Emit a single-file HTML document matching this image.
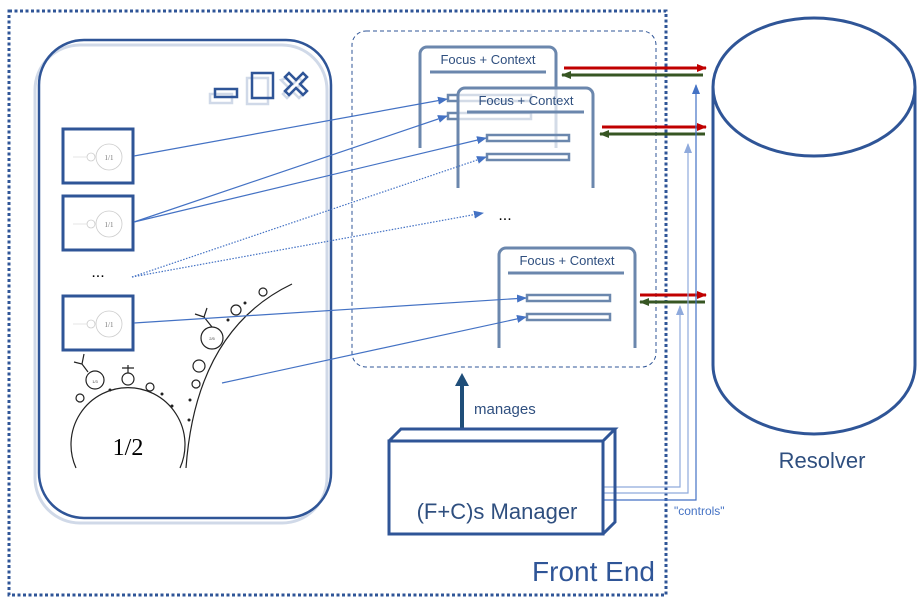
<!DOCTYPE html>
<html><head><meta charset="utf-8"><style>
html,body{margin:0;padding:0;background:#fff;}
svg{display:block;font-family:"Liberation Sans",sans-serif;}
</style></head><body>
<svg width="923" height="606" viewBox="0 0 923 606" xmlns="http://www.w3.org/2000/svg">
<defs>
<marker id="ab" markerWidth="10" markerHeight="8" refX="9" refY="4" orient="auto" markerUnits="userSpaceOnUse"><path d="M0,0 L10,4 L0,8 z" fill="#4472c4"/></marker>
<marker id="ar" markerWidth="10" markerHeight="8" refX="9" refY="4" orient="auto" markerUnits="userSpaceOnUse"><path d="M0,0 L10,4 L0,8 z" fill="#c00000"/></marker>
<marker id="ag" markerWidth="10" markerHeight="8" refX="9" refY="4" orient="auto" markerUnits="userSpaceOnUse"><path d="M0,0 L10,4 L0,8 z" fill="#375623"/></marker>
<marker id="abl" markerWidth="10" markerHeight="8" refX="9" refY="4" orient="auto" markerUnits="userSpaceOnUse"><path d="M0,0 L10,4 L0,8 z" fill="#8faadc"/></marker>
</defs>

<rect x="9" y="11" width="657" height="584" fill="none" stroke="#2f5597" stroke-width="3" stroke-dasharray="3,2.5"/>

<rect x="35" y="45" width="292" height="478" rx="45" fill="none" stroke="#d0d9e8" stroke-width="3"/>
<rect x="39" y="40" width="292" height="478" rx="45" fill="none" stroke="#2f5597" stroke-width="2.5"/>
<rect x="210" y="94" width="22" height="9" fill="none" stroke="#d0d9e8" stroke-width="2.5"/>
<rect x="247" y="78" width="21" height="26" fill="none" stroke="#d0d9e8" stroke-width="2.5"/>
<path d="M281,80 l6,-2 l6,6 l6,-6 l4,4 l-6,6 l6,6 l-4,4 l-6,-6 l-6,6 l-4,-4 l6,-6 z" fill="none" stroke="#d0d9e8" stroke-width="2.5"/>
<rect x="215" y="89" width="22" height="8" fill="none" stroke="#2f5597" stroke-width="2.5"/>
<rect x="252" y="73" width="21" height="25" fill="none" stroke="#2f5597" stroke-width="2.5"/>
<path d="M289,73 l7,7 l7,-7 l4,4 l-7,7 l7,7 l-4,4 l-7,-7 l-7,7 l-4,-4 l7,-7 l-7,-7 z" fill="none" stroke="#2f5597" stroke-width="2.5"/>

<g id="th">
<rect x="63" y="129" width="70" height="54" fill="#fff" stroke="#2f5597" stroke-width="3"/>
<circle cx="109" cy="157" r="13" fill="none" stroke="#ccc" stroke-width="0.8"/>
<circle cx="91" cy="157" r="4" fill="none" stroke="#ccc" stroke-width="0.8"/>
<line x1="73" y1="157" x2="87" y2="157" stroke="#ddd" stroke-width="0.8"/>
<text x="109" y="160" font-size="7" text-anchor="middle" fill="#777" font-family="Liberation Serif,serif">1/1</text>
</g>
<use href="#th" y="67"/>
<use href="#th" y="167"/>
<text x="98" y="277" font-size="16" text-anchor="middle" fill="#000">...</text>

<g fill="none" stroke="#222" stroke-width="1.2">
<path d="M76,468 A57,57 0 1 1 180,468"/>
<path d="M186,468 Q196,330 292,284"/>
<circle cx="95" cy="380" r="9"/><circle cx="128" cy="379" r="6"/><circle cx="150" cy="387" r="4"/><circle cx="80" cy="398" r="4"/>
<circle cx="212" cy="338" r="11"/><circle cx="199" cy="366" r="6"/><circle cx="196" cy="384" r="4"/><circle cx="236" cy="310" r="5"/><circle cx="263" cy="292" r="4"/>
<path d="M88,372 l-6,-8 l-8,-2 M82,364 l2,-10 M128,373 v-8 M122,368 h12 M212,327 l-8,-10 M204,317 l-9,-3 M204,317 l3,-9"/>
</g>
<g fill="#222"><circle cx="110" cy="390" r="1.5"/><circle cx="162" cy="394" r="1.5"/><circle cx="172" cy="406" r="1.5"/><circle cx="190" cy="400" r="1.5"/><circle cx="189" cy="420" r="1.5"/><circle cx="228" cy="320" r="1.5"/><circle cx="245" cy="303" r="1.5"/></g>
<text x="95" y="383" font-size="4" fill="#444" text-anchor="middle">1/3</text>
<text x="212" y="340" font-size="4" fill="#444" text-anchor="middle">2/5</text>
<text x="128" y="455" font-size="24" text-anchor="middle" fill="#000" font-family="Liberation Serif,serif">1/2</text>

<rect x="352" y="31" width="304" height="336" rx="14" fill="none" stroke="#2f5597" stroke-width="1" stroke-dasharray="4,3"/>

<path d="M420,148 V54 a7,7 0 0 1 7,-7 H549 a7,7 0 0 1 7,7 V148" fill="none" stroke="#6b87ad" stroke-width="3"/>
<text x="488" y="64" font-size="13" text-anchor="middle" fill="#2f4f7f">Focus + Context</text>
<line x1="430" y1="72" x2="546" y2="72" stroke="#6b87ad" stroke-width="3"/>
<rect x="448" y="95" width="83" height="6" fill="none" stroke="#6b87ad" stroke-width="2.5"/>
<rect x="448" y="113" width="83" height="6" fill="none" stroke="#6b87ad" stroke-width="2.5"/>
<path d="M458,188 V95 a7,7 0 0 1 7,-7 H586 a7,7 0 0 1 7,7 V188" fill="#fff" fill-opacity="0.7" stroke="#6b87ad" stroke-width="3"/>
<text x="526" y="105" font-size="13" text-anchor="middle" fill="#2f4f7f">Focus + Context</text>
<line x1="467" y1="112" x2="584" y2="112" stroke="#6b87ad" stroke-width="3"/>
<rect x="487" y="135" width="82" height="6" fill="none" stroke="#6b87ad" stroke-width="2.5"/>
<rect x="487" y="154" width="82" height="6" fill="none" stroke="#6b87ad" stroke-width="2.5"/>
<text x="505" y="220" font-size="16" text-anchor="middle" fill="#000">...</text>
<path d="M499,348 V255 a7,7 0 0 1 7,-7 H628 a7,7 0 0 1 7,7 V348" fill="none" stroke="#6b87ad" stroke-width="3"/>
<text x="567" y="265" font-size="13" text-anchor="middle" fill="#2f4f7f">Focus + Context</text>
<line x1="508" y1="273" x2="624" y2="273" stroke="#6b87ad" stroke-width="3"/>
<rect x="527" y="295" width="83" height="6" fill="none" stroke="#6b87ad" stroke-width="2.5"/>
<rect x="527" y="314" width="83" height="6" fill="none" stroke="#6b87ad" stroke-width="2.5"/>

<g stroke="#4472c4" stroke-width="1.2" fill="none">
<line x1="134" y1="156" x2="447" y2="99" marker-end="url(#ab)"/>
<line x1="134" y1="222" x2="447" y2="116" marker-end="url(#ab)"/>
<line x1="134" y1="222" x2="486" y2="138" marker-end="url(#ab)"/>
<line x1="132" y1="277" x2="486" y2="157" stroke-dasharray="1.5,1.5" marker-end="url(#ab)"/>
<line x1="132" y1="277" x2="483" y2="213" stroke-dasharray="1.5,1.5" marker-end="url(#ab)"/>
<line x1="134" y1="323" x2="526" y2="298" marker-end="url(#ab)"/>
<line x1="222" y1="383" x2="526" y2="317" marker-end="url(#ab)"/>
</g>

<g stroke-width="3">
<line x1="564" y1="68" x2="706" y2="68" stroke="#c00000" marker-end="url(#ar)"/>
<line x1="703" y1="75" x2="562" y2="75" stroke="#375623" marker-end="url(#ag)"/>
<line x1="602" y1="127" x2="706" y2="127" stroke="#c00000" marker-end="url(#ar)"/>
<line x1="705" y1="134" x2="600" y2="134" stroke="#375623" marker-end="url(#ag)"/>
<line x1="640" y1="295" x2="706" y2="295" stroke="#c00000" marker-end="url(#ar)"/>
<line x1="705" y1="302" x2="640" y2="302" stroke="#375623" marker-end="url(#ag)"/>
</g>

<g fill="none" stroke-width="1.2">
<path d="M603,487 H680 V306" stroke="#8faadc" marker-end="url(#abl)"/>
<path d="M603,493 H688 V144" stroke="#8faadc" marker-end="url(#abl)"/>
<path d="M603,500 H696 V85" stroke="#4472c4" marker-end="url(#ab)"/>
</g>
<text x="674" y="515" font-size="12" fill="#4472c4">"controls"</text>

<line x1="462" y1="429" x2="462" y2="385" stroke="#1f4e79" stroke-width="4"/>
<path d="M455,386 L462,373 L469,386 z" fill="#1f4e79"/>
<text x="474" y="414" font-size="15" fill="#2f4f7f">manages</text>
<g fill="none" stroke="#2f5597" stroke-width="3" stroke-linejoin="miter">
<rect x="389" y="441" width="214" height="93"/>
<path d="M389,441 L401,429 H615 L603,441 M615,429 V522 L603,534"/>
</g>
<text x="497" y="519" font-size="22" text-anchor="middle" fill="#2f4f7f">(F+C)s Manager</text>
<text x="655" y="581" font-size="28" text-anchor="end" fill="#2f5597">Front End</text>

<g fill="none" stroke="#2f5597" stroke-width="3">
<ellipse cx="814" cy="87" rx="101" ry="69"/>
<path d="M713,87 V365 A101,69 0 0 0 915,365 V87"/>
</g>
<text x="822" y="468" font-size="22" text-anchor="middle" fill="#2f4f7f">Resolver</text>
</svg>
</body></html>
